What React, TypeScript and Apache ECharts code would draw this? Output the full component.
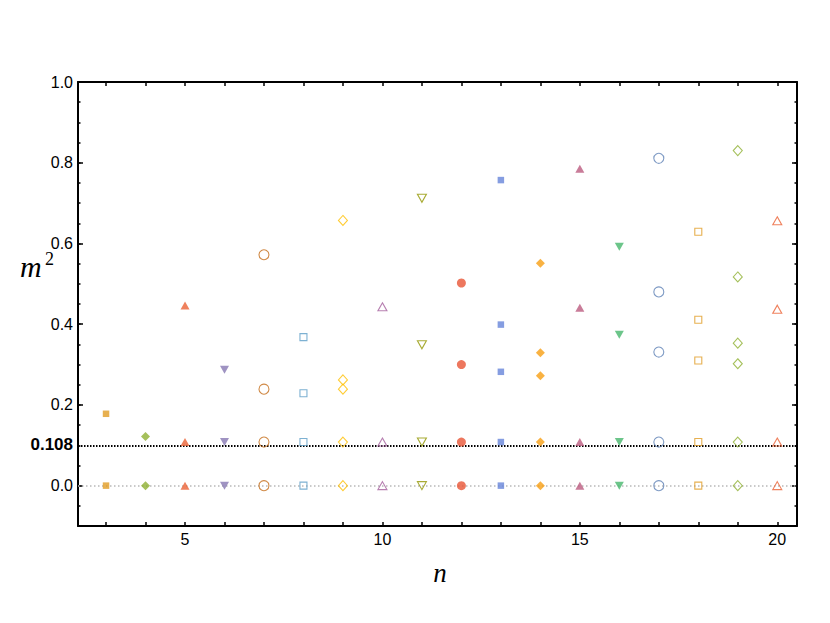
import React, { useEffect, useRef } from "react";
import * as echarts from "echarts";

const nValues = [3, 4, 5, 6, 7, 8, 9, 10, 11, 12, 13, 14, 15, 16, 17, 18, 19, 20];
const m2Values: number[][] = [
  [0.178, 0],
  [0.122, 0],
  [0.446, 0.108, 0],
  [0.287, 0.108, 0],
  [0.572, 0.239, 0.108, 0],
  [0.368, 0.229, 0.108, 0],
  [0.657, 0.262, 0.239, 0.108, 0],
  [0.443, 0.108, 0],
  [0.712, 0.349, 0.108, 0],
  [0.502, 0.3, 0.108, 0],
  [0.757, 0.399, 0.282, 0.108, 0],
  [0.551, 0.329, 0.272, 0.108, 0],
  [0.785, 0.441, 0.108, 0],
  [0.592, 0.374, 0.108, 0],
  [0.811, 0.48, 0.331, 0.108, 0],
  [0.629, 0.411, 0.31, 0.108, 0],
  [0.83, 0.517, 0.353, 0.302, 0.108, 0],
  [0.656, 0.437, 0.108, 0],
];
const palette = [
  "#E19C24", "#8FB032", "#EB6235", "#8778B3", "#C56E1A", "#5D9EC7", "#FFBF00",
  "#A5609D", "#929600", "#E95536", "#6685D9", "#F89F13", "#BC5B80", "#47B66D",
  "#5E81B5", "#E19C24", "#8FB032", "#EB6235",
];
// marker kinds cycle: filled circle, square, diamond, up, down; then open versions
const markerCycle = [
  ["circle", false], ["rect", false], ["diamond", false], ["up", false], ["down", false],
  ["circle", true], ["rect", true], ["diamond", true], ["up", true], ["down", true],
] as [string, boolean][];

const refLabel = "0.108";
const refLinePos = 0.102; // where the dotted reference line / its tick sit in the picture
const yLabelValues = [0, 0.2, 0.4, 0.6, 0.8, 1.0, refLinePos];
const yMajorTicks = [0, 0.2, 0.4, 0.6, 0.8, 1.0];
const xLabelValues = [5, 10, 15, 20];

export default function App() {
  const ref = useRef<HTMLDivElement>(null);
  useEffect(() => {
    if (!ref.current) return;
    const chart = echarts.init(ref.current, null, { renderer: "svg" });
    const font = "Liberation Sans";

    const series: any[] = nValues.map((n, i) => {
      const [kind, open] = markerCycle[(n - 2) % 10];
      const color = palette[i];
      let symbol = kind === "up" || kind === "down" ? "triangle" : kind;
      let size: any = 8;
      if (kind === "circle") size = open ? 10 : 9;
      if (kind === "rect") size = open ? 7 : 6.5;
      if (kind === "diamond") size = open ? [9, 10] : [9, 9];
      if (kind === "up" || kind === "down") size = open ? [9, 8] : [9, 8];
      return {
        type: "scatter",
        xAxisIndex: 0,
        yAxisIndex: 0,
        symbol,
        symbolSize: size,
        symbolRotate: kind === "down" ? 180 : 0,
        itemStyle: open
          ? { color: "rgba(0,0,0,0)", borderColor: color, borderWidth: 1.1 }
          : { color },
        data: m2Values[i].map((v) => [n, v]),
        z: 5,
      };
    });

    series.push({
      type: "line",
      xAxisIndex: 0,
      yAxisIndex: 0,
      data: [],
      markLine: {
        silent: true,
        symbol: "none",
        label: { show: false },
        data: [
          { yAxis: refLinePos, lineStyle: { color: "#000", width: 2, type: [1.5, 1.5] } },
          { yAxis: 0, lineStyle: { color: "#b8b8b8", width: 1.5, type: [1.5, 2.5] } },
        ],
      },
      z: 1,
    });

    const baseX = {
      type: "value",
      min: 2.29,
      max: 20.5,
      splitLine: { show: false },
      axisLine: { show: true, onZero: false, lineStyle: { color: "#000", width: 2 } },
    };
    const baseY = {
      type: "value",
      min: -0.1,
      max: 1.0,
      splitLine: { show: false },
      axisLine: { show: true, onZero: false, lineStyle: { color: "#000", width: 2 } },
    };

    chart.setOption({
      animation: false,
      grid: { left: 78, right: 33, top: 82, bottom: 97, containLabel: false },
      xAxis: [
        {
          ...baseX,
          position: "bottom",
          axisTick: { show: true, inside: true, length: 4, customValues: nValues, lineStyle: { color: "#000", width: 1.5 } },
          axisLabel: { show: true, customValues: xLabelValues, fontFamily: font, fontSize: 16, color: "#000", margin: 5 },
        },
        {
          ...baseX,
          position: "top",
          axisTick: { show: true, inside: true, length: 4, customValues: nValues, lineStyle: { color: "#000", width: 1.5 } },
          axisLabel: { show: false },
        },
      ],
      yAxis: [
        {
          ...baseY,
          position: "left",
          axisTick: { show: true, inside: true, length: 5, customValues: yMajorTicks, lineStyle: { color: "#000", width: 1.5 } },
          axisLabel: {
            show: true,
            customValues: yLabelValues,
            fontFamily: font,
            fontSize: 16,
            color: "#000",
            margin: 5,
            formatter: (v: number) => (Math.abs(v - refLinePos) < 1e-9 ? "{b|" + refLabel + "}" : v.toFixed(1)),
            rich: { b: { fontFamily: font, fontSize: 17, fontWeight: "bold", color: "#000" } },
          },
        },
        {
          ...baseY,
          position: "left",
          interval: 0.05,
          axisLine: { show: false },
          axisTick: { show: true, inside: true, length: 2.5, lineStyle: { color: "#000", width: 1.5 } },
          axisLabel: { show: false },
        },
        {
          ...baseY,
          position: "right",
          axisTick: { show: true, inside: true, length: 5, customValues: yMajorTicks, lineStyle: { color: "#000", width: 1.5 } },
          axisLabel: { show: false },
        },
        {
          ...baseY,
          position: "right",
          interval: 0.05,
          axisLine: { show: false },
          axisTick: { show: true, inside: true, length: 2.5, lineStyle: { color: "#000", width: 1.5 } },
          axisLabel: { show: false },
        },
      ],
      graphic: [
        {
          type: "text",
          x: 20,
          y: 266,
          style: { text: "m", font: "italic 30px 'Liberation Serif', serif", fill: "#000", textAlign: "left", textVerticalAlign: "middle" },
        },
        {
          type: "text",
          x: 45,
          y: 259,
          style: { text: "2", font: "18px 'Liberation Serif', serif", fill: "#000", textAlign: "left", textVerticalAlign: "middle" },
        },
        {
          type: "text",
          x: 440,
          y: 573,
          style: { text: "n", font: "italic 27px 'Liberation Serif', serif", fill: "#000", textAlign: "center", textVerticalAlign: "middle" },
        },
      ],
      series,
    });
    return () => chart.dispose();
  }, []);
  return <div ref={ref} style={{ position: "absolute", left: 0, top: 0, width: 830, height: 623 }} />;
}
